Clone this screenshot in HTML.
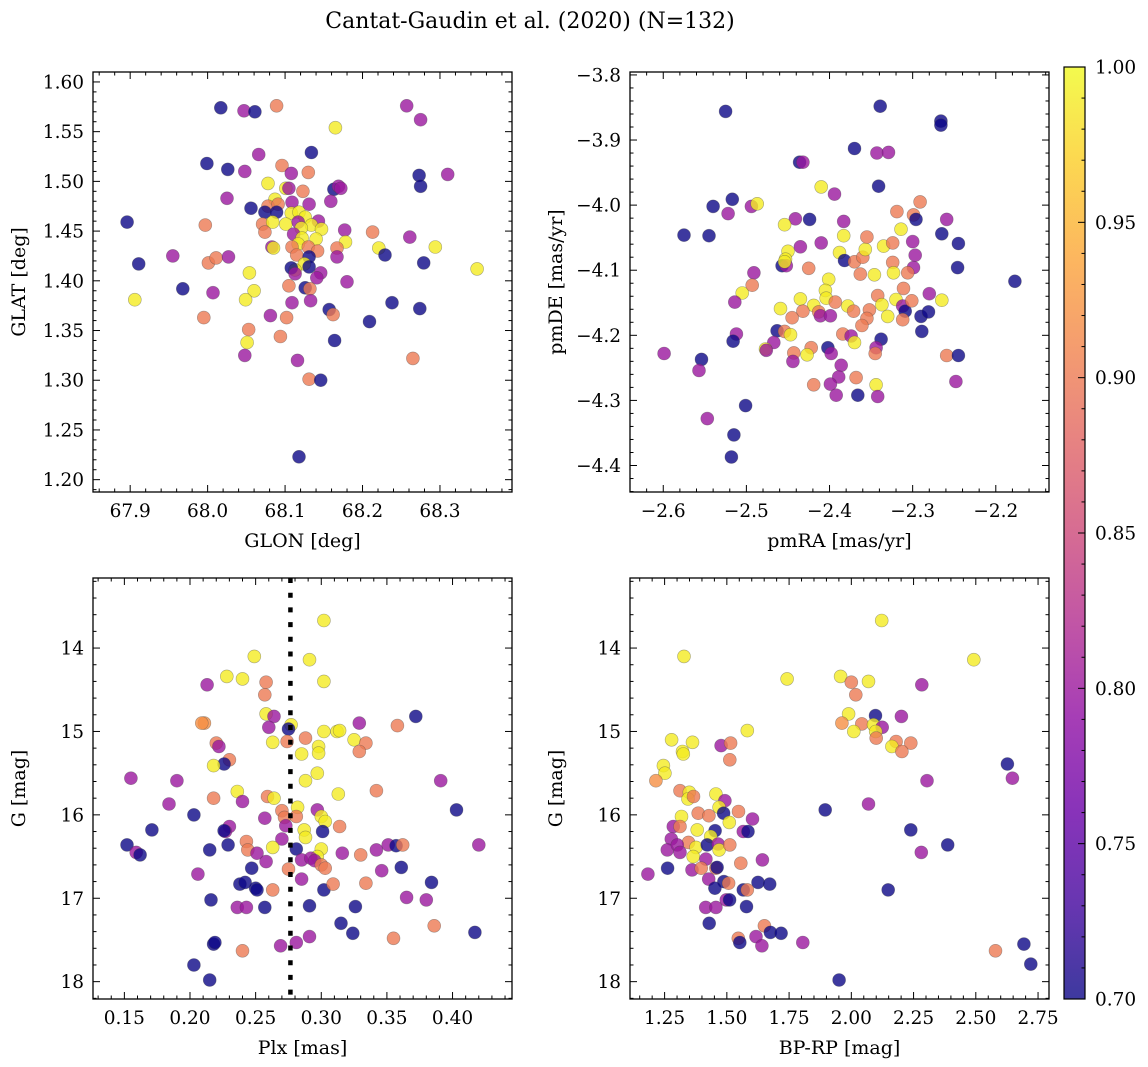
<!DOCTYPE html>
<html><head><meta charset="utf-8"><style>
html,body{margin:0;padding:0;background:#fff;}
svg{display:block;font-family:"DejaVu Serif","Liberation Serif",serif;}
</style></head><body>
<svg id="fig" width="1148" height="1067" viewBox="0 0 1148 1067" xmlns="http://www.w3.org/2000/svg">
<defs>
<linearGradient id="plasma" x1="0" y1="1" x2="0" y2="0">
<stop offset="0" stop-color="#0d0887"/><stop offset="0.1" stop-color="#41049d"/><stop offset="0.2" stop-color="#6a00a8"/><stop offset="0.3" stop-color="#8f0da4"/><stop offset="0.4" stop-color="#b12a90"/><stop offset="0.5" stop-color="#cc4778"/><stop offset="0.6" stop-color="#e16462"/><stop offset="0.7" stop-color="#f2844b"/><stop offset="0.8" stop-color="#fca636"/><stop offset="0.9" stop-color="#fcce25"/><stop offset="1" stop-color="#f0f921"/>
</linearGradient>
</defs>
<text x="530" y="28" font-size="22" text-anchor="middle">Cantat-Gaudin et al. (2020) (N=132)</text>
</svg>
<script>
// ---- Data: top-left (GLON vs GLAT)
const glon=[68.017,68.047,68.061,68.089,68.165,68.257,68.275,68.134,68.066,67.999,68.026,68.048,68.096,68.108,68.13,68.273,68.31,68.275,68.078,68.101,68.105,68.123,68.163,68.169,68.172,68.025,68.087,68.078,68.091,68.109,68.131,68.159,68.056,68.074,68.089,68.108,68.118,68.126,67.896,67.997,68.071,68.084,68.101,68.117,68.143,68.134,68.121,68.147,68.074,68.111,68.122,68.177,68.213,68.261,68.14,68.178,68.117,68.083,68.085,68.109,68.13,68.142,68.167,68.221,68.294,67.955,67.911,68.001,68.011,68.027,68.167,68.229,68.115,68.131,68.279,68.348,68.125,68.113,68.108,68.131,68.146,68.141,68.113,68.18,68.054,67.968,68.007,68.06,68.105,68.126,68.132,67.906,68.049,68.109,68.133,68.238,68.274,68.157,68.162,68.081,68.102,67.995,68.209,68.053,68.094,68.164,68.051,68.048,68.265,68.116,68.131,68.146,68.118];
const glat=[1.574,1.571,1.570,1.576,1.554,1.576,1.562,1.529,1.527,1.518,1.512,1.510,1.516,1.508,1.509,1.506,1.507,1.495,1.498,1.493,1.493,1.490,1.492,1.495,1.493,1.483,1.482,1.475,1.477,1.479,1.477,1.480,1.473,1.469,1.469,1.468,1.469,1.464,1.459,1.456,1.457,1.459,1.457,1.459,1.460,1.456,1.453,1.452,1.449,1.447,1.443,1.451,1.449,1.444,1.442,1.439,1.437,1.434,1.433,1.434,1.434,1.430,1.433,1.433,1.434,1.425,1.417,1.418,1.423,1.424,1.424,1.426,1.426,1.424,1.418,1.412,1.417,1.411,1.413,1.414,1.408,1.403,1.407,1.399,1.408,1.392,1.388,1.390,1.395,1.393,1.392,1.381,1.381,1.378,1.380,1.378,1.372,1.371,1.366,1.365,1.363,1.363,1.359,1.351,1.344,1.340,1.338,1.325,1.322,1.320,1.301,1.300,1.223];
const probTL=[0.70,0.80,0.70,0.90,0.99,0.80,0.80,0.70,0.80,0.70,0.70,0.80,0.90,0.80,0.90,0.70,0.80,0.70,0.99,0.99,0.80,0.90,0.70,0.80,0.80,0.80,0.99,0.90,0.90,0.80,0.80,0.80,0.70,0.70,0.70,0.99,0.99,0.99,0.70,0.90,0.90,0.99,0.99,0.80,0.80,0.99,0.99,0.99,0.90,0.80,0.99,0.80,0.90,0.80,0.99,0.99,0.99,0.80,0.99,0.90,0.90,0.90,0.90,0.99,0.99,0.80,0.70,0.90,0.90,0.80,0.80,0.70,0.90,0.70,0.70,0.99,0.99,0.99,0.70,0.70,0.80,0.80,0.80,0.80,0.99,0.70,0.80,0.99,0.90,0.70,0.90,0.99,0.99,0.80,0.80,0.70,0.70,0.70,0.90,0.80,0.90,0.90,0.70,0.90,0.90,0.70,0.99,0.80,0.90,0.80,0.90,0.70,0.70];
// ---- Data: top-right (pmRA vs pmDE)
const pmra=[-2.525,-2.339,-2.266,-2.266,-2.370,-2.343,-2.329,-2.436,-2.432,-2.341,-2.410,-2.394,-2.517,-2.540,-2.522,-2.494,-2.487,-2.575,-2.545,-2.424,-2.441,-2.454,-2.383,-2.383,-2.410,-2.435,-2.450,-2.453,-2.457,-2.452,-2.454,-2.425,-2.388,-2.382,-2.370,-2.360,-2.357,-2.355,-2.335,-2.324,-2.319,-2.299,-2.296,-2.291,-2.314,-2.265,-2.259,-2.245,-2.300,-2.297,-2.299,-2.246,-2.177,-2.324,-2.323,-2.306,-2.363,-2.346,-2.401,-2.491,-2.493,-2.505,-2.514,-2.405,-2.404,-2.435,-2.393,-2.419,-2.413,-2.411,-2.399,-2.378,-2.371,-2.342,-2.337,-2.352,-2.355,-2.361,-2.330,-2.320,-2.311,-2.312,-2.309,-2.301,-2.312,-2.280,-2.265,-2.290,-2.281,-2.289,-2.459,-2.432,-2.445,-2.463,-2.454,-2.447,-2.512,-2.516,-2.467,-2.477,-2.476,-2.384,-2.374,-2.370,-2.422,-2.402,-2.398,-2.443,-2.427,-2.444,-2.338,-2.344,-2.345,-2.259,-2.245,-2.599,-2.554,-2.557,-2.386,-2.389,-2.368,-2.419,-2.399,-2.344,-2.392,-2.366,-2.342,-2.248,-2.501,-2.547,-2.515,-2.518];
const pmde=[-3.856,-3.848,-3.871,-3.877,-3.913,-3.920,-3.919,-3.934,-3.934,-3.971,-3.972,-3.983,-3.991,-4.002,-4.013,-4.002,-3.998,-4.046,-4.047,-4.022,-4.021,-4.030,-4.025,-4.047,-4.058,-4.064,-4.071,-4.083,-4.093,-4.093,-4.087,-4.097,-4.073,-4.085,-4.087,-4.080,-4.068,-4.049,-4.063,-4.058,-4.010,-4.015,-4.022,-3.995,-4.037,-4.044,-4.022,-4.059,-4.056,-4.077,-4.096,-4.096,-4.117,-4.088,-4.104,-4.104,-4.106,-4.107,-4.114,-4.104,-4.123,-4.135,-4.149,-4.131,-4.143,-4.144,-4.149,-4.154,-4.164,-4.170,-4.170,-4.155,-4.163,-4.139,-4.153,-4.161,-4.174,-4.185,-4.171,-4.145,-4.128,-4.155,-4.163,-4.147,-4.176,-4.136,-4.146,-4.171,-4.164,-4.194,-4.159,-4.163,-4.173,-4.193,-4.194,-4.199,-4.198,-4.209,-4.211,-4.221,-4.223,-4.198,-4.201,-4.211,-4.219,-4.219,-4.228,-4.227,-4.230,-4.240,-4.206,-4.219,-4.228,-4.231,-4.231,-4.228,-4.237,-4.254,-4.246,-4.264,-4.265,-4.276,-4.275,-4.276,-4.292,-4.292,-4.294,-4.271,-4.308,-4.328,-4.353,-4.387];
const probTR=[0.70,0.70,0.70,0.70,0.70,0.80,0.80,0.70,0.80,0.70,0.99,0.80,0.70,0.70,0.80,0.80,0.99,0.70,0.70,0.70,0.80,0.99,0.80,0.99,0.80,0.80,0.99,0.99,0.70,0.80,0.99,0.90,0.99,0.70,0.90,0.90,0.99,0.90,0.99,0.90,0.90,0.90,0.70,0.90,0.99,0.70,0.80,0.70,0.80,0.80,0.80,0.70,0.70,0.90,0.99,0.90,0.90,0.99,0.99,0.80,0.90,0.99,0.80,0.99,0.99,0.99,0.90,0.99,0.90,0.80,0.80,0.99,0.90,0.90,0.99,0.90,0.90,0.90,0.99,0.99,0.90,0.80,0.70,0.90,0.90,0.80,0.99,0.70,0.70,0.70,0.99,0.90,0.90,0.70,0.90,0.99,0.80,0.70,0.80,0.99,0.80,0.90,0.80,0.99,0.90,0.70,0.80,0.90,0.99,0.80,0.70,0.80,0.90,0.90,0.70,0.80,0.70,0.80,0.80,0.80,0.90,0.90,0.80,0.99,0.80,0.70,0.80,0.80,0.70,0.80,0.70,0.70];
// ---- Data: bottom-left (Plx vs G)
const plx=[0.302,0.249,0.291,0.228,0.240,0.302,0.213,0.258,0.257,0.258,0.264,0.277,0.260,0.275,0.211,0.209,0.329,0.358,0.372,0.302,0.312,0.314,0.325,0.334,0.329,0.288,0.274,0.263,0.298,0.298,0.285,0.220,0.222,0.230,0.226,0.218,0.297,0.288,0.155,0.190,0.391,0.342,0.236,0.313,0.184,0.218,0.240,0.259,0.264,0.282,0.297,0.203,0.403,0.270,0.272,0.281,0.300,0.303,0.257,0.273,0.171,0.230,0.227,0.226,0.287,0.301,0.314,0.288,0.270,0.152,0.159,0.162,0.215,0.229,0.243,0.244,0.251,0.263,0.281,0.300,0.297,0.285,0.292,0.295,0.300,0.303,0.258,0.275,0.316,0.330,0.342,0.351,0.357,0.362,0.420,0.361,0.346,0.206,0.247,0.285,0.238,0.242,0.250,0.251,0.263,0.302,0.309,0.334,0.384,0.216,0.236,0.243,0.257,0.291,0.326,0.365,0.380,0.315,0.324,0.291,0.281,0.269,0.355,0.386,0.417,0.218,0.219,0.240,0.203,0.215];
const gBL=[13.67,14.10,14.14,14.34,14.37,14.40,14.44,14.41,14.56,14.79,14.82,14.92,14.95,14.97,14.90,14.90,14.90,14.93,14.82,15.00,15.00,14.99,15.10,15.14,15.24,15.08,15.12,15.13,15.18,15.26,15.27,15.14,15.18,15.34,15.39,15.41,15.50,15.59,15.56,15.59,15.59,15.71,15.72,15.75,15.87,15.80,15.84,15.78,15.80,15.91,15.94,16.00,15.94,15.95,16.03,16.02,16.02,16.08,16.04,16.13,16.18,16.14,16.20,16.19,16.18,16.20,16.14,16.27,16.29,16.36,16.45,16.48,16.42,16.36,16.32,16.42,16.46,16.39,16.41,16.41,16.50,16.54,16.52,16.55,16.60,16.64,16.56,16.65,16.46,16.48,16.42,16.36,16.37,16.36,16.36,16.63,16.67,16.71,16.64,16.77,16.83,16.81,16.88,16.90,16.90,16.90,16.83,16.82,16.81,17.02,17.11,17.11,17.11,17.09,17.10,16.99,17.02,17.30,17.42,17.46,17.53,17.57,17.48,17.33,17.41,17.55,17.53,17.63,17.80,17.98];
const probBL=[0.99,0.99,0.99,0.99,0.99,0.99,0.80,0.90,0.90,0.99,0.80,0.99,0.80,0.70,0.92,0.92,0.80,0.90,0.70,0.99,0.99,0.99,0.99,0.90,0.90,0.90,0.90,0.99,0.99,0.99,0.99,0.90,0.80,0.90,0.70,0.99,0.99,0.99,0.80,0.80,0.80,0.90,0.99,0.99,0.80,0.90,0.80,0.90,0.99,0.99,0.80,0.70,0.70,0.90,0.90,0.90,0.99,0.99,0.80,0.80,0.70,0.80,0.80,0.70,0.99,0.70,0.90,0.99,0.80,0.70,0.80,0.70,0.70,0.70,0.90,0.90,0.80,0.99,0.70,0.99,0.99,0.80,0.80,0.80,0.90,0.90,0.80,0.90,0.80,0.90,0.80,0.80,0.70,0.90,0.80,0.70,0.80,0.80,0.70,0.80,0.70,0.70,0.70,0.70,0.90,0.70,0.90,0.90,0.70,0.70,0.80,0.80,0.70,0.70,0.70,0.80,0.80,0.70,0.70,0.80,0.80,0.80,0.90,0.90,0.70,0.70,0.70,0.90,0.70,0.70];
// ---- Data: bottom-right (BP-RP vs G)
const bprp=[2.122,1.328,2.492,1.742,1.957,2.000,2.069,2.018,2.283,1.989,2.097,2.201,1.962,2.042,2.089,2.124,2.010,2.098,2.100,2.180,2.239,2.163,2.203,1.582,1.278,1.362,1.322,1.325,1.477,1.515,1.512,1.245,1.251,1.215,2.627,2.647,2.304,1.312,1.349,1.344,1.366,1.456,1.492,1.469,1.487,1.385,1.428,1.547,1.603,2.069,1.895,1.318,1.285,1.312,1.510,1.381,1.453,1.566,1.585,1.435,1.277,1.346,2.239,2.387,2.281,1.261,1.301,1.312,1.376,1.421,1.465,1.469,1.512,1.365,1.416,1.556,1.643,1.262,1.183,1.360,1.397,1.456,1.461,1.427,1.488,1.507,1.625,1.672,1.452,1.566,1.582,1.498,1.511,1.415,1.456,1.579,1.429,2.148,1.651,1.675,1.718,1.546,1.552,1.617,1.641,1.805,1.951,2.579,2.693,2.721];
const gBR=[13.67,14.10,14.14,14.37,14.34,14.41,14.40,14.56,14.44,14.79,14.81,14.82,14.90,14.91,14.92,14.95,15.00,15.00,15.08,15.12,15.14,15.18,15.24,14.99,15.10,15.13,15.24,15.27,15.17,15.14,15.34,15.41,15.50,15.59,15.39,15.56,15.59,15.71,15.73,15.81,15.78,15.75,15.83,15.91,15.98,15.98,16.01,15.96,16.05,15.87,15.94,16.02,16.14,16.14,16.09,16.18,16.19,16.20,16.20,16.26,16.29,16.33,16.18,16.36,16.45,16.42,16.36,16.45,16.39,16.36,16.35,16.42,16.36,16.50,16.53,16.58,16.54,16.64,16.71,16.66,16.64,16.64,16.63,16.77,16.80,16.82,16.81,16.83,16.88,16.90,16.90,17.02,17.02,17.11,17.11,17.10,17.30,16.90,17.33,17.41,17.42,17.48,17.53,17.46,17.57,17.53,17.98,17.63,17.55,17.79];
const probBR=[0.99,0.99,0.99,0.99,0.99,0.90,0.99,0.90,0.80,0.99,0.70,0.80,0.92,0.90,0.99,0.80,0.99,0.99,0.90,0.90,0.90,0.99,0.90,0.99,0.99,0.99,0.99,0.99,0.80,0.90,0.90,0.99,0.99,0.92,0.70,0.80,0.80,0.90,0.99,0.99,0.90,0.99,0.80,0.99,0.70,0.90,0.90,0.90,0.80,0.80,0.70,0.99,0.80,0.90,0.99,0.99,0.70,0.80,0.70,0.99,0.80,0.90,0.70,0.70,0.80,0.80,0.80,0.80,0.99,0.70,0.80,0.99,0.90,0.99,0.80,0.90,0.80,0.70,0.80,0.80,0.90,0.90,0.70,0.80,0.70,0.90,0.70,0.70,0.70,0.70,0.90,0.80,0.70,0.80,0.80,0.70,0.70,0.70,0.90,0.70,0.70,0.90,0.70,0.80,0.80,0.80,0.70,0.90,0.70,0.70];
const plxMean=[0.2765];
const cbarTicks=[0.70,0.75,0.80,0.85,0.90,0.95,1.00];

const NS='http://www.w3.org/2000/svg';
const svg=document.getElementById('fig');
const stops=[[0,13,8,135],[0.1,65,4,157],[0.2,106,0,168],[0.3,143,13,164],[0.4,177,42,144],[0.5,204,71,120],[0.6,225,100,98],[0.7,242,132,75],[0.8,252,166,54],[0.9,252,206,37],[1,240,249,33]];
function plasma(p){let t=(p-0.7)/0.3;t=Math.max(0,Math.min(1,t));
 for(let i=1;i<stops.length;i++){if(t<=stops[i][0]){const a=stops[i-1],b=stops[i];const f=(t-a[0])/(b[0]-a[0]);
  return 'rgb('+[1,2,3].map(k=>Math.round(a[k]+(b[k]-a[k])*f)).join(',')+')';}}return 'rgb(240,249,33)';}
function mk(tag,attrs,parent){const e=document.createElementNS(NS,tag);for(const k in attrs)e.setAttribute(k,attrs[k]);(parent||svg).appendChild(e);return e;}
function fmt(v,d){const s=Math.abs(v).toFixed(d);return (v<-1e-9?'\u2212':'')+s;}
const TF=18.5, AF=19;

function panel(cfg){
 const g=mk('g',{});
 
 
 const sx=v=>cfg.L+(v-cfg.xmin)/(cfg.xmax-cfg.xmin)*(cfg.R-cfg.L);
 const sy=cfg.inv?(v=>cfg.T+(v-cfg.ymin)/(cfg.ymax-cfg.ymin)*(cfg.B-cfg.T)):(v=>cfg.B-(v-cfg.ymin)/(cfg.ymax-cfg.ymin)*(cfg.B-cfg.T));
 const pts=mk('g',{},g);
 
 
 for(let i=0;i<cfg.xs.length;i++){
  const c=mk('circle',{cx:sx(cfg.xs[i]).toFixed(1),cy:sy(cfg.ys[i]).toFixed(1),r:6.5,fill:plasma(cfg.ps[i]),'fill-opacity':0.8,stroke:'#444','stroke-opacity':0.45,'stroke-width':0.6},pts);
  
  
 }
 if(cfg.vline){
  const ln=mk('line',{x1:sx(cfg.vline[0]),x2:sx(cfg.vline[0]),y1:cfg.T,y2:cfg.B,stroke:'#000','stroke-width':4.5,'stroke-dasharray':'5 9.7'},g);
  
  
 }
 const fr=mk('rect',{x:cfg.L,y:cfg.T,width:cfg.R-cfg.L,height:cfg.B-cfg.T,fill:'none',stroke:'#000','stroke-width':1.3},g);
 
 
 const tk=mk('g',{stroke:'#000','stroke-width':1},g);
 const eps=1e-6;
 for(let v=Math.ceil(cfg.xmin/cfg.xmi)*cfg.xmi;v<=cfg.xmax+eps;v+=cfg.xmi){
  const X=sx(v);if(X<cfg.L||X>cfg.R)continue;
  const major=Math.abs(v/cfg.xma-Math.round(v/cfg.xma))<1e-4;const len=major?7:3.5;
  mk('line',{x1:X,x2:X,y1:cfg.B,y2:cfg.B-len},tk);mk('line',{x1:X,x2:X,y1:cfg.T,y2:cfg.T+len},tk);
  if(major){const t=mk('text',{x:X,y:cfg.B+25,'font-size':TF,'text-anchor':'middle',stroke:'none'},g);t.textContent=fmt(v,cfg.xd);
   }
 }
 for(let v=Math.ceil(cfg.ylo/cfg.ymi)*cfg.ymi;v<=cfg.yhi+eps;v+=cfg.ymi){
  const Y=sy(v);if(Y<cfg.T||Y>cfg.B)continue;
  const major=Math.abs(v/cfg.yma-Math.round(v/cfg.yma))<1e-4;const len=major?7:3.5;
  mk('line',{x1:cfg.L,x2:cfg.L+len,y1:Y,y2:Y},tk);mk('line',{x1:cfg.R,x2:cfg.R-len,y1:Y,y2:Y},tk);
  if(major){const t=mk('text',{x:cfg.L-9,y:Y+6.5,'font-size':TF,'text-anchor':'end',stroke:'none'},g);t.textContent=fmt(v,cfg.yd);
   }
 }
 const xt=mk('text',{x:(cfg.L+cfg.R)/2,y:cfg.B+55,'font-size':AF,'text-anchor':'middle'},g);xt.textContent=cfg.xlab;
 
 const yx=cfg.L-68;const yc=(cfg.T+cfg.B)/2;
 const yt=mk('text',{x:yx,y:yc,'font-size':AF,'text-anchor':'middle',transform:'rotate(-90 '+yx+' '+yc+')'},g);yt.textContent=cfg.ylab;
 
}

panel({name:'glon-glat-panel',xs:glon,ys:glat,ps:probTL,L:93,R:512,T:72,B:492,xmin:67.852,xmax:68.393,ymin:1.1876,ymax:1.610,ylo:1.1876,yhi:1.610,inv:false,xma:0.1,xmi:0.02,yma:0.05,ymi:0.01,xd:1,yd:2,xlab:'GLON [deg]',ylab:'GLAT [deg]'});
panel({name:'proper-motion-panel',xs:pmra,ys:pmde,ps:probTR,L:630,R:1049,T:72,B:492,xmin:-2.640,xmax:-2.136,ymin:-4.4407,ymax:-3.7955,ylo:-4.4407,yhi:-3.7955,inv:false,xma:0.1,xmi:0.02,yma:0.1,ymi:0.02,xd:1,yd:1,xlab:'pmRA [mas/yr]',ylab:'pmDE [mas/yr]'});
panel({name:'parallax-magnitude-panel',xs:plx,ys:gBL,ps:probBL,vline:plxMean,L:93,R:512,T:578,B:999,xmin:0.1261,xmax:0.4453,ymin:13.16,ymax:18.208,ylo:13.16,yhi:18.208,inv:true,xma:0.05,xmi:0.01,yma:1,ymi:0.2,xd:2,yd:0,xlab:'Plx [mas]',ylab:'G [mag]'});
panel({name:'color-magnitude-panel',xs:bprp,ys:gBR,ps:probBR,L:630,R:1049,T:578,B:999,xmin:1.111,xmax:2.794,ymin:13.16,ymax:18.208,ylo:13.16,yhi:18.208,inv:true,xma:0.25,xmi:0.05,yma:1,ymi:0.2,xd:2,yd:0,xlab:'BP-RP [mag]',ylab:'G [mag]'});

(function(){
 const T=67,B=999,L=1064,R=1085;
 const g=mk('g',{});
 
 
 mk('rect',{x:L,y:T,width:R-L,height:B-T,fill:'url(#plasma)','fill-opacity':0.8},g);
 mk('rect',{x:L,y:T,width:R-L,height:B-T,fill:'none',stroke:'#000','stroke-width':1.2},g);
 const sy=v=>B-(v-0.7)/0.3*(B-T);
 for(let k=70;k<=100;k++){const v=k/100;const Y=sy(v);const major=k%5===0;
  mk('line',{x1:R,x2:R-(major?7:3.5),y1:Y,y2:Y,stroke:'#000','stroke-width':1},g);}
 cbarTicks.forEach(v=>{const t=mk('text',{x:1095,y:sy(v)+6.5,'font-size':TF},g);t.textContent=v.toFixed(2);
  });
})();
</script>
</body></html>
